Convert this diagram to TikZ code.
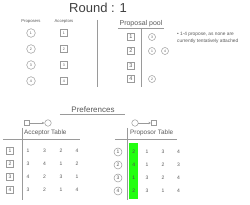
\documentclass[tikz,border=0pt]{standalone}
\usepackage{fontspec}
\setmainfont{Liberation Sans}
\usetikzlibrary{arrows.meta}
\definecolor{txt}{HTML}{5A5A5A}
\definecolor{ln}{HTML}{9A9A9A}
\definecolor{hl}{HTML}{22FF11}
\tikzset{
  tiny/.style={font=\fontsize{4.2}{5}\selectfont, text=txt, inner sep=0pt},
  pc/.style={circle, draw=ln, line width=0.5pt, minimum size=8.6pt, inner sep=0pt, font=\fontsize{3.6}{4}\selectfont, text=txt},
  ab/.style={rectangle, draw=ln, line width=0.5pt, minimum size=7.5pt, inner sep=0pt, font=\fontsize{3.6}{4}\selectfont, text=txt},
  poolbox/.style={rectangle, draw=ln, line width=0.5pt, minimum size=6.5pt, inner sep=0pt, font=\fontsize{5.5}{6}\selectfont, text=txt},
  poolc/.style={circle, draw=ln, line width=0.5pt, minimum size=7pt, inner sep=0pt, font=\fontsize{3.4}{4}\selectfont, text=txt},
  rowbox/.style={rectangle, draw=ln, line width=0.5pt, minimum size=6.5pt, inner sep=0pt, font=\fontsize{5}{6}\selectfont, text=txt},
  rowc/.style={circle, draw=ln, line width=0.5pt, minimum size=8pt, inner sep=0pt, font=\fontsize{5}{6}\selectfont, text=txt},
  num/.style={font=\fontsize{5}{6}\selectfont, text=txt, inner sep=0pt},
  lbl/.style={font=\fontsize{6.4}{7}\selectfont, text=txt, inner sep=0pt, anchor=west},
  rule/.style={draw=ln, line width=0.5pt},
}
\begin{document}
\begin{tikzpicture}[x=1pt,y=-1pt]
\useasboundingbox[fill=white] (0,0) rectangle (250,205);
% title
\node[font=\fontsize{13}{14}\selectfont, text=black!75, inner sep=0pt] (title) at (98,8) {Round : 1};
% proposers / acceptors
\node[tiny] (plab) at (31,21) {Proposers};
\node[tiny] (alab) at (64,21) {Acceptors};
\foreach \i/\y in {1/33,2/49,3/65,4/81}{
  \node[pc] (p\i) at (31,\y) {\i};
  \node[ab] (a\i) at (64,\y) {\i};
}
\coordinate (d1) at (97,20); \coordinate (d2) at (97,87);
\draw[rule] (d1) -- (d2);
% proposal pool
\node[font=\fontsize{7}{8}\selectfont, text=txt, inner sep=0pt] (pool) at (141,24) {Proposal pool};
\coordinate (u1) at (118,28); \coordinate (u2) at (164,28);
\draw[rule] (u1) -- (u2);
\coordinate (v1) at (141,28); \coordinate (v2) at (141,87);
\draw[rule] (v1) -- (v2);
\foreach \i/\y in {1/37,2/51,3/66,4/79}{
  \node[poolbox] (q\i) at (131,\y) {\i};
}
\node[poolc] (c3) at (152,37) {3};
\node[poolc] (c1) at (152,51) {1};
\node[poolc] (c4) at (165,51) {4};
\node[poolc] (c2) at (152,79) {2};
\node[font=\fontsize{4.8}{7}\selectfont, text=txt, inner sep=0pt, anchor=north west, align=left] (note) at (177,32.5) {\textbullet\ 1-4 propose, as none are\\currently tentatively attached};
% preferences
\node[font=\fontsize{8}{9}\selectfont, text=txt, inner sep=0pt] (pref) at (93,109.5) {Preferences};
\coordinate (r1) at (60,114); \coordinate (r2) at (125,114);
\draw[rule] (r1) -- (r2);
% acceptor table
\node[rectangle, draw=ln, line width=0.5pt, minimum size=5.5pt, inner sep=0pt] (sa1) at (27,123) {};
\node[circle, draw=ln, line width=0.5pt, minimum size=6.5pt, inner sep=0pt] (sa2) at (48,123) {};
\draw[ln, line width=0.5pt, -{Stealth[length=2.5pt,width=2.2pt]}] (sa1) -- (sa2);
\node[lbl] (atab) at (24,133) {Acceptor Table};
\coordinate (h1) at (3,139); \coordinate (h2) at (80,139);
\draw[rule] (h1) -- (h2);
\coordinate (w1) at (22,128); \coordinate (w2) at (22,200);
\draw[rule] (w1) -- (w2);
\foreach \i/\y/\a/\b/\c/\d in {1/151/1/3/2/4,2/164/3/4/1/2,3/177/4/2/3/1,4/190/3/2/1/4}{
  \node[rowbox] (ra\i) at (10,\y) {\i};
  \node[num] (ra\i a) at (28,\y) {\a};
  \node[num] (ra\i b) at (44.5,\y) {\b};
  \node[num] (ra\i c) at (61,\y) {\c};
  \node[num] (ra\i d) at (77,\y) {\d};
}
% proposor table
\node[circle, draw=ln, line width=0.5pt, minimum size=6.5pt, inner sep=0pt] (sp1) at (135,123) {};
\node[rectangle, draw=ln, line width=0.5pt, minimum size=5.5pt, inner sep=0pt] (sp2) at (154,123) {};
\draw[ln, line width=0.5pt, -{Stealth[length=2.5pt,width=2.2pt]}] (sp1) -- (sp2);
\node[lbl] (ptab) at (130,133) {Proposor Table};
\coordinate (k1) at (115,139); \coordinate (k2) at (177,139);
\draw[rule] (k1) -- (k2);
\coordinate (m1) at (127.5,128); \coordinate (m2) at (127.5,200);
\draw[rule] (m1) -- (m2);
\fill[hl] (129,143) rectangle (138.5,199);
\foreach \i/\y/\a/\b/\c/\d in {1/152/2/1/3/4,2/165/4/1/2/3,3/178/1/3/2/4,4/191/2/3/1/4}{
  \node[rowc] (rp\i) at (118,\y) {\i};
  \node[num, text=black!70] (rp\i a) at (133.8,\y) {\a};
  \node[num] (rp\i b) at (147,\y) {\b};
  \node[num] (rp\i c) at (163,\y) {\c};
  \node[num] (rp\i d) at (178.5,\y) {\d};
}
\end{tikzpicture}
\end{document}
